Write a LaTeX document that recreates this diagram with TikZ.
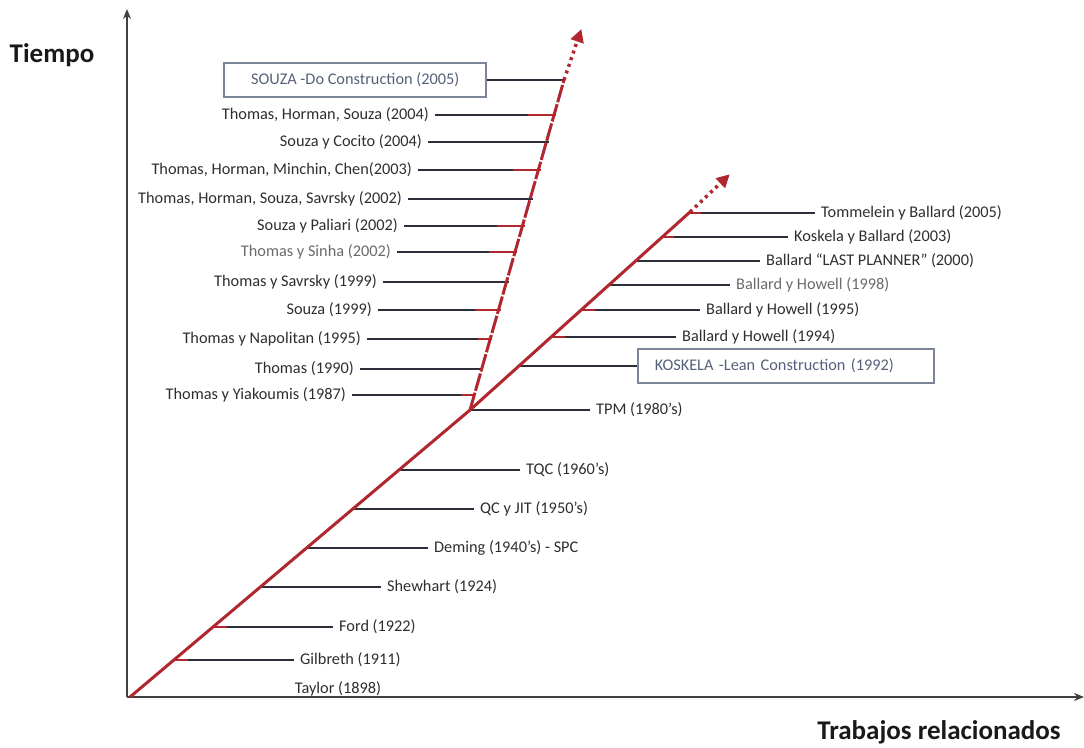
\documentclass[tikz,border=0pt]{standalone}
\usepackage{fontspec}
\setmainfont{Carlito}
\usetikzlibrary{arrows.meta,positioning,calc}

\definecolor{linered}{HTML}{B0282E}
\definecolor{tickgray}{HTML}{2E2E3A}
\definecolor{txtgray}{HTML}{2E2E2E}
\definecolor{palegray}{HTML}{6A6A6A}
\definecolor{boxblue}{HTML}{56607A}
\definecolor{boxline}{HTML}{7D8698}

\begin{document}
\begin{tikzpicture}[x=1pt,y=-1pt,
    axis/.style={line width=2.2pt,draw=black!75,-{Stealth[length=10pt,width=8pt]}},
    redpath/.style={line width=3pt,draw=linered},
    reddots/.style={line width=3.5pt,draw=linered,dash pattern=on 3pt off 4pt,
      -{Triangle[length=13pt,width=13pt,sep=-1pt]}},
    tick/.style={line width=2pt,draw=tickgray},
    redtip/.style={line width=2pt,draw=linered},
    lbl/.style={font=\fontsize{16.3}{18}\selectfont,text=txtgray,inner xsep=6pt,inner ysep=1pt},
    title/.style={font=\fontsize{27}{30}\selectfont\bfseries,text=black!90},
    period/.style={draw=boxline,line width=1.6pt,text=boxblue,
      font=\fontsize{16.3}{18}\selectfont,minimum height=34pt}]

  \useasboundingbox (0,0) rectangle (1084,747);

  % axes
  \coordinate (O) at (127,697);
  \coordinate (ytop) at (127,9);
  \coordinate (xend) at (1084,697);
  \draw[axis] (O)--(ytop);
  \draw[axis] (O)--(xend);
  \node[title] (tiempo) at (52,55) {Tiempo};
  \node[title] (trabajos) at (939,732) {Trabajos relacionados};

  % main line
  \coordinate (o) at (130,697);
  \coordinate (J) at (470,410);
  \coordinate (L1) at (690,212);
  \coordinate (L2) at (729,175);
  \coordinate (S1) at (564,80);
  \coordinate (S2) at (581,30);

  % lower part
  \coordinate (a1) at (174,660);
  \coordinate (a2) at (213,627);
  \coordinate (a3) at (260,587);
  \coordinate (a4) at (307,548);
  \coordinate (a5) at (353,509);
  \coordinate (a6) at (399,470);
  \node[lbl] (taylor) at (338,689) {Taylor (1898)};
  \node[lbl, right = 120pt of a1, anchor=west] (gilbreth) {Gilbreth (1911)};
  \node[lbl, right = 120pt of a2, anchor=west] (ford) {Ford (1922)};
  \node[lbl, right = 121pt of a3, anchor=west] (shewhart) {Shewhart (1924)};
  \node[lbl, right = 121pt of a4, anchor=west] (deming) {Deming (1940’s) - SPC};
  \node[lbl, right = 121pt of a5, anchor=west] (qcjit) {QC y JIT (1950’s)};
  \node[lbl, right = 121pt of a6, anchor=west] (tqc) {TQC (1960’s)};
  \draw[tick] (a1)--(gilbreth);
  \draw[tick] (a2)--(ford);
  \draw[tick] (a3)--(shewhart);
  \draw[tick] (a4)--(deming);
  \draw[tick] (a5)--(qcjit);
  \draw[tick] (a6)--(tqc);
  \draw[redtip] (a1)-- ++(14pt,0);
  \draw[redtip] (a2)-- ++(14pt,0);

  % lean branch
  \node[lbl, right = 120pt of J, anchor=west] (tpm) {TPM (1980’s)};
  \draw[tick] (J)--(tpm);
  \coordinate (b0) at (520,366);
  \coordinate (b1) at (551,337);
  \coordinate (b2) at (581,310);
  \coordinate (b3) at (609,285);
  \coordinate (b4) at (636,261);
  \coordinate (b5) at (662,237);
  \coordinate (b6) at (689,213);
  \node[period, right = 117pt of b0, minimum width=296pt, text width=262pt, align=left] (koskela) {KOSKELA -Lean Construction (1992)};
  \node[lbl, right = 125pt of b1, anchor=west] (bh94) {Ballard y Howell (1994)};
  \node[lbl, right = 119pt of b2, anchor=west] (bh95) {Ballard y Howell (1995)};
  \node[lbl, right = 121pt of b3, anchor=west, text=palegray] (bh98) {Ballard y Howell (1998)};
  \node[lbl, right = 124pt of b4, anchor=west] (lastp) {Ballard “LAST PLANNER” (2000)};
  \node[lbl, right = 126pt of b5, anchor=west] (kb03) {Koskela y Ballard (2003)};
  \node[lbl, right = 126pt of b6, anchor=west] (tb05) {Tommelein y Ballard (2005)};
  \draw[tick] (b0)--(koskela);
  \draw[tick] (b1)--(bh94);
  \draw[tick] (b2)--(bh95);
  \draw[tick] (b3)--(bh98);
  \draw[tick] (b4)--(lastp);
  \draw[tick] (b5)--(kb03);
  \draw[tick] (b6)--(tb05);
  \draw[redtip] (b1)-- ++(14pt,0);
  \draw[redtip] (b2)-- ++(14pt,0);
  \draw[redtip] (b5)-- ++(12pt,0);
  \draw[redtip] (b6)-- ++(12pt,0);

  % last planner branch
  \coordinate (c0) at (564,80);
  \coordinate (c1) at (556,115);
  \coordinate (c2) at (549,142);
  \coordinate (c3) at (541,170);
  \coordinate (c4) at (533,199);
  \coordinate (c5) at (525,226);
  \coordinate (c6) at (517,252);
  \coordinate (c7) at (509,282);
  \coordinate (c8) at (501,310);
  \coordinate (c9) at (492,339);
  \coordinate (c10) at (483,369);
  \coordinate (c11) at (475,395);
  \node[period, left = 77pt of c0, minimum width=262pt] (souza) {SOUZA -Do Construction (2005)};
  \node[lbl, left = 121pt of c1] (ths04) {Thomas, Horman, Souza (2004)};
  \node[lbl, left = 121pt of c2] (sc04) {Souza y Cocito (2004)};
  \node[lbl, left = 123pt of c3] (thmc03) {Thomas, Horman, Minchin, Chen(2003)};
  \node[lbl, left = 125pt of c4] (thss02) {Thomas, Horman, Souza, Savrsky (2002)};
  \node[lbl, left = 121pt of c5] (sp02) {Souza y Paliari (2002)};
  \node[lbl, left = 120pt of c6, text=palegray] (ts02) {Thomas y Sinha (2002)};
  \node[lbl, left = 126pt of c7] (tsav99) {Thomas y Savrsky (1999)};
  \node[lbl, left = 123pt of c8] (s99) {Souza (1999)};
  \node[lbl, left = 125pt of c9] (tn95) {Thomas y Napolitan (1995)};
  \node[lbl, left = 123pt of c10] (t90) {Thomas (1990)};
  \node[lbl, left = 123pt of c11] (ty87) {Thomas y Yiakoumis (1987)};
  \draw[tick] (c0)--(souza);
  \draw[tick] (c1)--(ths04);
  \draw[tick] (c2)--(sc04);
  \draw[tick] (c3)--(thmc03);
  \draw[tick] (c4)--(thss02);
  \draw[tick] (c5)--(sp02);
  \draw[tick] (c6)--(ts02);
  \draw[tick] (c7)--(tsav99);
  \draw[tick] (c8)--(s99);
  \draw[tick] (c9)--(tn95);
  \draw[tick] (c10)--(t90);
  \draw[tick] (c11)--(ty87);
  \draw[redtip] (c1)-- ++(-28pt,0);
  \draw[redtip] (c3)-- ++(-28pt,0);
  \draw[redtip] (c5)-- ++(-28pt,0);
  \draw[redtip] (c6)-- ++(-28pt,0);
  \draw[redtip] (c8)-- ++(-26pt,0);
  \draw[redtip] (c9)-- ++(-14pt,0);
  \draw[redtip] (c11)-- ++(-14pt,0);

  \draw[redpath] (o)--(J)--(L1);
  \draw[redpath, dash pattern=on 18pt off 2pt] (J)--(S1);
  \draw[reddots] (L1)--(L2);
  \draw[reddots] (S1)--(S2);

\end{tikzpicture}
\end{document}
